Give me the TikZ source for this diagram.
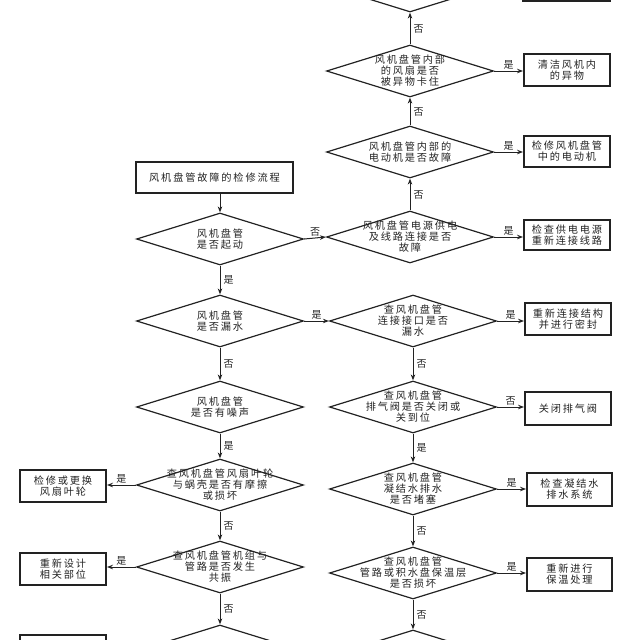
\documentclass[tikz,border=0pt]{standalone}
\usepackage{fontspec}
\setmainfont{Noto Sans CJK SC}[LetterSpace=18]
\usetikzlibrary{shapes.geometric,arrows.meta}
\definecolor{ink}{HTML}{222222}
\tikzset{
  dia/.style={shape=diamond, draw=ink, line width=1.2pt, minimum width=167pt, minimum height=52pt, inner sep=0pt},
  dtxt/.style={align=center, font=\fontsize{10.2}{11}\selectfont, text=ink, inner sep=0pt},
  box/.style={draw=ink, line width=1.9pt, minimum width=86pt, minimum height=31pt, inner sep=0pt, align=center, font=\fontsize{10.2}{11}\selectfont, text=ink},
  arr/.style={draw=ink, line width=1pt, -{Stealth[length=6pt,width=4.5pt]}},
  lab/.style={font=\fontsize{10}{10}\selectfont, inner sep=1pt, text=ink},
}
\begin{document}
\begin{tikzpicture}[x=1pt,y=-1pt]
\useasboundingbox (0,0) rectangle (640,640);
\clip (0,0) rectangle (640,640);
% right column, top
\node[dia] (t0) at (410,-14) {};
\node[box, minimum width=87pt] (b0) at (566.5,-14.5) {};
\node[dia, label={[dtxt]center:{风机盘管内部\\的风扇是否\\被异物卡住}}] (d1) at (410,71) {};
\node[box, minimum height=32pt] (b1) at (567,70) {清洁风机内\\的异物};
\node[dia, label={[dtxt]center:{风机盘管内部的\\电动机是否故障}}] (d2) at (410,152) {};
\node[box] (b2) at (567,151.5) {检修风机盘管\\中的电动机};
\node[dia, label={[dtxt]center:{风机盘管电源供电\\及线路连接是否\\故障}}] (d3) at (410,237) {};
\node[box, minimum height=30pt] (b3) at (567,235) {检查供电电源\\重新连接线路};
% start
\node[box, minimum width=157pt] (st) at (214.5,177.5) {风机盘管故障的检修流程};
% left column
\node[dia, label={[dtxt]center:{风机盘管\\是否起动}}] (l1) at (220,239) {};
\node[dia, label={[dtxt]center:{风机盘管\\是否漏水}}] (l2) at (220,321) {};
\node[dia, label={[dtxt]center:{风机盘管\\是否有噪声}}] (l3) at (220,407) {};
\node[dia, label={[dtxt]center:{查风机盘管风扇叶轮\\与蜗壳是否有摩擦\\或损坏}}] (l4) at (220,485) {};
\node[dia, label={[dtxt]center:{查风机盘管机组与\\管路是否发生\\共振}}] (l5) at (220,567) {};
\node[dia] (l6) at (220,651) {};
\node[box, minimum height=32pt] (bl1) at (63,486) {检修或更换\\风扇叶轮};
\node[box, minimum height=32pt] (bl2) at (63,569) {重新设计\\相关部位};
\node[box, minimum height=32pt] (bl3) at (63,651) {};
% right column, lower
\node[dia, label={[dtxt]center:{查风机盘管\\连接接口是否\\漏水}}] (r2) at (413,321) {};
\node[box, minimum height=32pt] (b4) at (568,319) {重新连接结构\\并进行密封};
\node[dia, label={[dtxt]center:{查风机盘管\\排气阀是否关闭或\\关到位}}] (r3) at (413,407) {};
\node[box, minimum height=33pt] (b5) at (568,408.5) {关闭排气阀};
\node[dia, label={[dtxt]center:{查风机盘管\\凝结水排水\\是否堵塞}}] (r4) at (413,489) {};
\node[box, minimum width=85pt, minimum height=33pt] (b6) at (569.5,489.5) {检查凝结水\\排水系统};
\node[dia, label={[dtxt]center:{查风机盘管\\管路或积水盘保温层\\是否损坏}}] (r5) at (413,573) {};
\node[box, minimum width=85pt, minimum height=33pt] (b7) at (569.5,574.5) {重新进行\\保温处理};
\node[dia] (r6) at (413,656) {};
% connectors, right column top
\draw[arr] (t0.east) -- (t0.east -| b0.west);
\draw[arr] (d1.north) -- node[lab, anchor=west, xshift=2pt] {否} (t0.south);
\draw[arr] (d1.east) -- node[lab, above] {是} (d1.east -| b1.west);
\draw[arr] (d2.north) -- node[lab, anchor=west, xshift=2pt] {否} (d1.south);
\draw[arr] (d2.east) -- node[lab, above] {是} (d2.east -| b2.west);
\draw[arr] (d3.north) -- node[lab, anchor=west, xshift=2pt] {否} (d2.south);
\draw[arr] (d3.east) -- node[lab, above] {是} (d3.east -| b3.west);
% start and left column
\draw[arr] (st.south -| l1.north) -- (l1.north);
\draw[arr] (l1.east) -- node[lab, above] {否} (d3.west);
\draw[arr] (l1.south) -- node[lab, anchor=west, xshift=2pt] {是} (l2.north);
\draw[arr] (l2.east) -- node[lab, above] {是} (r2.west);
\draw[arr] (l2.south) -- node[lab, anchor=west, xshift=2pt] {否} (l3.north);
\draw[arr] (l3.south) -- node[lab, anchor=west, xshift=2pt] {是} (l4.north);
\draw[arr] (l4.west) -- node[lab, above] {是} (l4.west -| bl1.east);
\draw[arr] (l4.south) -- node[lab, anchor=west, xshift=2pt] {否} (l5.north);
\draw[arr] (l5.west) -- node[lab, above] {是} (l5.west -| bl2.east);
\draw[arr] (l5.south) -- node[lab, anchor=west, xshift=2pt] {否} (l6.north);
\draw[arr] (l6.west) -- (l6.west -| bl3.east);
% right column lower
\draw[arr] (r2.east) -- node[lab, above] {是} (r2.east -| b4.west);
\draw[arr] (r2.south) -- node[lab, anchor=west, xshift=2pt] {否} (r3.north);
\draw[arr] (r3.east) -- node[lab, above] {否} (r3.east -| b5.west);
\draw[arr] (r3.south) -- node[lab, anchor=west, xshift=2pt] {是} (r4.north);
\draw[arr] (r4.east) -- node[lab, above] {是} (r4.east -| b6.west);
\draw[arr] (r4.south) -- node[lab, anchor=west, xshift=2pt] {否} (r5.north);
\draw[arr] (r5.east) -- node[lab, above] {是} (r5.east -| b7.west);
\draw[arr] (r5.south) -- node[lab, anchor=west, xshift=2pt] {否} (r6.north);
\end{tikzpicture}
\end{document}
